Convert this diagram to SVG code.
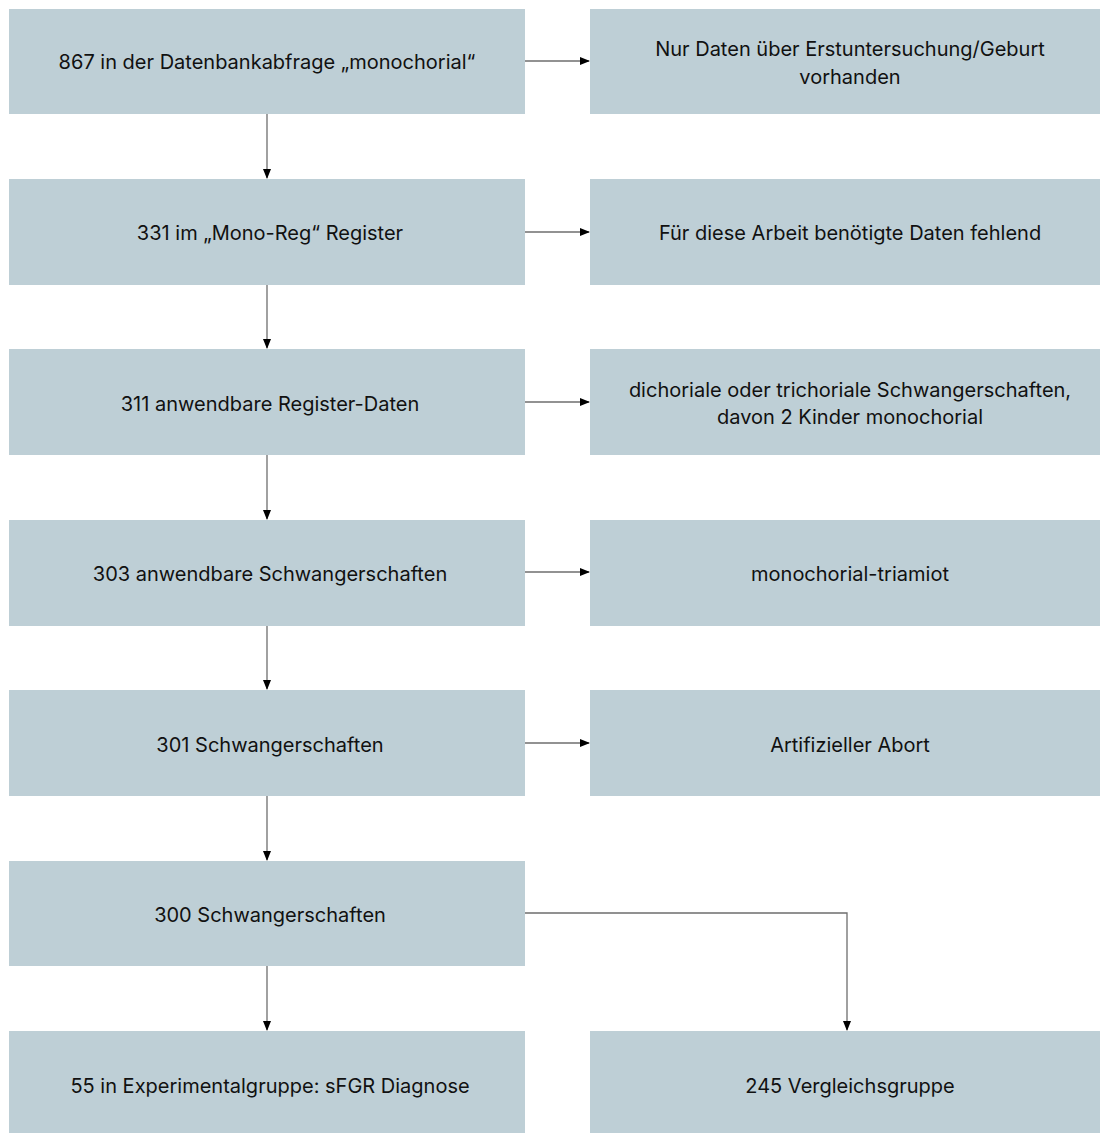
<svg xmlns="http://www.w3.org/2000/svg" width="1100" height="1133" viewBox="0 0 1100 1133">
<style>
.box{fill:#BECFD6;}
.t{font-family:Inter,"Noto Sans",sans-serif;font-size:20px;fill:#111;text-anchor:middle;dominant-baseline:central;}
.c{stroke:#6e6e6e;stroke-width:1.3;fill:none;marker-end:url(#ah);}
</style>
<defs>
<marker id="ah" markerWidth="10" markerHeight="8" refX="9" refY="4" orient="auto" markerUnits="userSpaceOnUse">
<path d="M0,0 L10,4 L0,8 Z" fill="#000"/>
</marker>
</defs>
<rect width="1100" height="1133" fill="#fff"/>
<g id="connectors">
<path class="c" d="M525,61 H589"/>
<path class="c" d="M525,232 H589"/>
<path class="c" d="M525,402 H589"/>
<path class="c" d="M525,572 H589"/>
<path class="c" d="M525,743 H589"/>
<path class="c" d="M267,114 V178"/>
<path class="c" d="M267,285 V348"/>
<path class="c" d="M267,455 V519"/>
<path class="c" d="M267,626 V689"/>
<path class="c" d="M267,796 V860"/>
<path class="c" d="M267,966 V1030"/>
<path class="c" d="M525,913 H847 V1030"/>
</g>
<g id="n1"><rect class="box" x="9" y="9" width="516" height="105"/><text class="t" x="267" y="62">867 in der Datenbankabfrage „monochorial“</text></g>
<g id="r1"><rect class="box" x="590" y="9" width="510" height="105"/><text class="t" x="850" y="49">Nur Daten über Erstuntersuchung/Geburt</text><text class="t" x="850" y="77">vorhanden</text></g>
<g id="n2"><rect class="box" x="9" y="179" width="516" height="106"/><text class="t" x="270" y="233">331 im „Mono-Reg“ Register</text></g>
<g id="r2"><rect class="box" x="590" y="179" width="510" height="106"/><text class="t" x="850" y="233">Für diese Arbeit benötigte Daten fehlend</text></g>
<g id="n3"><rect class="box" x="9" y="349" width="516" height="106"/><text class="t" x="270" y="404">311 anwendbare Register-Daten</text></g>
<g id="r3"><rect class="box" x="590" y="349" width="510" height="106"/><text class="t" x="850" y="390">dichoriale oder trichoriale Schwangerschaften,</text><text class="t" x="850" y="417">davon 2 Kinder monochorial</text></g>
<g id="n4"><rect class="box" x="9" y="520" width="516" height="106"/><text class="t" x="270" y="574">303 anwendbare Schwangerschaften</text></g>
<g id="r4"><rect class="box" x="590" y="520" width="510" height="106"/><text class="t" x="850" y="574">monochorial-triamiot</text></g>
<g id="n5"><rect class="box" x="9" y="690" width="516" height="106"/><text class="t" x="270" y="745">301 Schwangerschaften</text></g>
<g id="r5"><rect class="box" x="590" y="690" width="510" height="106"/><text class="t" x="850" y="745">Artifizieller Abort</text></g>
<g id="n6"><rect class="box" x="9" y="861" width="516" height="105"/><text class="t" x="270" y="915">300 Schwangerschaften</text></g>
<g id="n7"><rect class="box" x="9" y="1031" width="516" height="102"/><text class="t" x="270" y="1086">55 in Experimentalgruppe: sFGR Diagnose</text></g>
<g id="r7"><rect class="box" x="590" y="1031" width="510" height="102"/><text class="t" x="850" y="1086">245 Vergleichsgruppe</text></g>
</svg>
